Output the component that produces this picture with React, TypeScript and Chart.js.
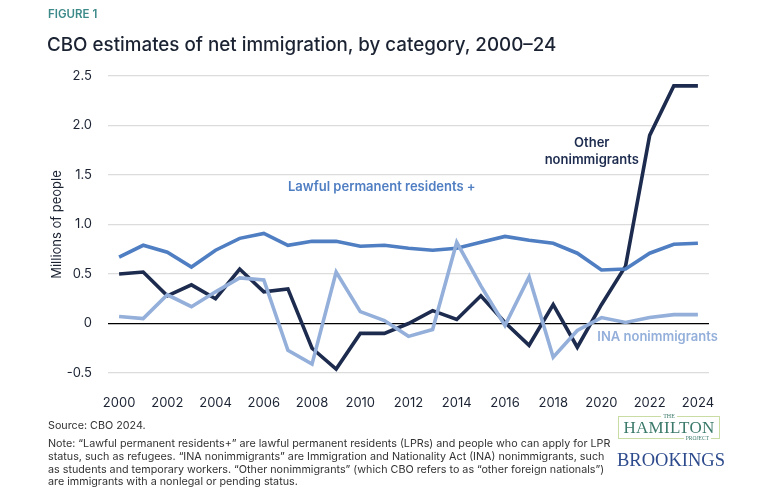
import React, { useEffect, useRef } from "react";
import { Chart, registerables } from "chart.js";

Chart.register(...registerables);

const years: number[] = [2000, 2001, 2002, 2003, 2004, 2005, 2006, 2007, 2008, 2009, 2010, 2011, 2012, 2013, 2014, 2015, 2016, 2017, 2018, 2019, 2020, 2021, 2022, 2023, 2024];
const lawfulPermanent: number[] = [0.67, 0.79, 0.72, 0.57, 0.74, 0.86, 0.91, 0.79, 0.83, 0.83, 0.78, 0.79, 0.76, 0.74, 0.76, 0.82, 0.88, 0.84, 0.81, 0.71, 0.54, 0.55, 0.71, 0.80, 0.81];
const inaNonimmigrants: number[] = [0.07, 0.05, 0.29, 0.17, 0.32, 0.46, 0.44, -0.27, -0.41, 0.52, 0.12, 0.03, -0.13, -0.06, 0.82, 0.38, -0.02, 0.47, -0.34, -0.07, 0.06, 0.01, 0.06, 0.09, 0.09];
const otherNonimmigrants: number[] = [0.50, 0.52, 0.28, 0.39, 0.25, 0.55, 0.32, 0.35, -0.25, -0.46, -0.10, -0.10, 0.00, 0.13, 0.04, 0.28, 0.01, -0.22, 0.19, -0.24, 0.19, 0.58, 1.90, 2.40, 2.40];
const xTickYears: number[] = [2000, 2002, 2004, 2006, 2008, 2010, 2012, 2014, 2016, 2018, 2020, 2022, 2024];
const yTickValues: number[] = [-0.5, 0, 0.5, 1.0, 1.5, 2.0, 2.5];
const yTickLabels: string[] = ["-0.5", "0", "0.5", "1.0", "1.5", "2.0", "2.5"];

const C_LAWFUL = "#4f7ec2";
const C_INA = "#93afda";
const C_OTHER = "#1c2b4e";
const FONT = "Inter, 'Noto Sans', sans-serif";

const seriesLabels = [
  { lines: ["Lawful permanent residents +"], x: 2007.0, y: 1.38, color: C_LAWFUL, align: "left" as CanvasTextAlign },
  { lines: ["Other", "nonimmigrants"], x: 2019.6, y: 1.82, color: C_OTHER, align: "center" as CanvasTextAlign },
  { lines: ["INA nonimmigrants"], x: 2019.83, y: -0.14, color: C_INA, align: "left" as CanvasTextAlign },
];

const labelPlugin = {
  id: "seriesLabels",
  afterDatasetsDraw(chart: any) {
    const { ctx, scales } = chart;
    ctx.save();
    ctx.font = `600 13px ${FONT}`;
    ctx.textBaseline = "middle";
    for (const l of seriesLabels) {
      const px = scales.x.getPixelForValue(l.x);
      const py = scales.y.getPixelForValue(l.y);
      ctx.fillStyle = l.color;
      ctx.textAlign = l.align;
      l.lines.forEach((t, i) => ctx.fillText(t, px, py + i * 17));
    }
    ctx.restore();
  },
};

function ChartCanvas() {
  const ref = useRef<HTMLCanvasElement | null>(null);
  useEffect(() => {
    if (!ref.current) return;
    const mk = (data: number[], color: string) => ({
      data: years.map((y, i) => ({ x: y, y: data[i] })),
      borderColor: color,
      borderWidth: 3.6,
      pointRadius: 0,
      tension: 0,
      fill: false,
      borderJoinStyle: "miter" as const,
    });
    const chart = new Chart(ref.current, {
      type: "line",
      data: {
        datasets: [
          mk(inaNonimmigrants, C_INA),
          mk(lawfulPermanent, C_LAWFUL),
          mk(otherNonimmigrants, C_OTHER),
        ],
      },
      options: {
        animation: false,
        responsive: false,
        devicePixelRatio: 1,
        layout: { padding: { top: 76, bottom: 85, left: 8, right: 50 } },
        plugins: { legend: { display: false }, tooltip: { enabled: false } },
        scales: {
          x: {
            type: "linear",
            min: 1999.54,
            max: 2024.46,
            afterBuildTicks: (s: any) => {
              s.ticks = xTickYears.map((v) => ({ value: v }));
            },
            afterFit: (s: any) => {
              s.height = 40;
              s.paddingLeft = 0;
              s.paddingRight = 0;
            },
            grid: { display: false },
            border: { display: false },
            ticks: {
              color: "#1b2333",
              font: { family: FONT, size: 13 },
              padding: 14,
              maxRotation: 0,
              autoSkip: false,
              callback: (v: any) => String(v),
            },
          },
          y: {
            type: "linear",
            min: -0.5,
            max: 2.5,
            afterBuildTicks: (s: any) => {
              s.ticks = yTickValues.map((v) => ({ value: v }));
            },
            afterFit: (s: any) => {
              s.width = 100;
              s.paddingTop = 0;
              s.paddingBottom = 0;
            },
            border: { display: false },
            grid: {
              color: (c: any) => (c.tick && c.tick.value === 0 ? "#000000" : "#dcdcdc"),
              lineWidth: (c: any) => (c.tick && c.tick.value === 0 ? 1.2 : 1.3),
              drawTicks: false,
            },
            ticks: {
              color: "#1b2333",
              font: { family: FONT, size: 13 },
              padding: 16,
              callback: (v: any) => {
                const i = yTickValues.indexOf(Number(v));
                return i >= 0 ? yTickLabels[i] : "";
              },
            },
            title: {
              display: true,
              text: "Millions of people",
              color: "#1b2333",
              font: { family: FONT, size: 13 },
              padding: { top: 41, bottom: 0 },
            },
          },
        },
      },
      plugins: [labelPlugin],
    });
    return () => chart.destroy();
  }, []);
  return <canvas ref={ref} width={759} height={498} style={{ position: "absolute", left: 0, top: 0, width: 759, height: 498 }} />;
}

const noteLines: string[] = [
  "Note: “Lawful permanent residents+” are lawful permanent residents (LPRs) and people who can apply for LPR",
  "status, such as refugees. “INA nonimmigrants” are Immigration and Nationality Act (INA) nonimmigrants, such",
  "as students and temporary workers. “Other nonimmigrants” (which CBO refers to as “other foreign nationals”)",
  "are immigrants with a nonlegal or pending status.",
];

export default function App() {
  useEffect(() => {
    document.body.style.margin = "0";
  }, []);
  const noteStyle = { position: "absolute" as const, left: 48, fontSize: 10.75, lineHeight: "13px", color: "#333", fontFamily: FONT, whiteSpace: "nowrap" as const };
  return (
    <div style={{ position: "relative", width: 759, height: 498, background: "#fff", overflow: "hidden", fontFamily: FONT }}>
      <ChartCanvas />
      <div style={{ position: "absolute", left: 48, top: 7, fontSize: 11.5, lineHeight: "14px", color: "#3d8a8a", fontWeight: 600 }}>FIGURE 1</div>
      <div style={{ position: "absolute", left: 47, top: 33, fontSize: 18.8, lineHeight: "24px", color: "#1b2333", fontWeight: 500, whiteSpace: "nowrap" }}>
        CBO estimates of net immigration, by category, 2000–24
      </div>
      <div style={{ ...noteStyle, top: 418.5 }}>Source: CBO 2024.</div>
      {noteLines.map((t, i) => (
        <div key={i} style={{ ...noteStyle, top: 437 + i * 12.8 }}>
          {t}
        </div>
      ))}
      <div style={{ position: "absolute", left: 618, top: 416, width: 100, height: 21, border: "1px solid #c9dca3" }}>
        <div style={{ position: "absolute", left: 0, right: 0, top: -5, textAlign: "center", fontSize: 6, lineHeight: "8px", fontFamily: "'Liberation Serif', serif", color: "#3b7a6a" }}>
          <span style={{ background: "#fff", padding: "0 2px" }}>THE</span>
        </div>
        <div style={{ position: "absolute", left: 0, right: 0, top: 2, textAlign: "center", fontSize: 17, lineHeight: "17px", fontFamily: "'Liberation Serif', serif", color: "#3b7a6a", letterSpacing: 0.3 }}>HAMILTON</div>
        <div style={{ position: "absolute", right: 8, bottom: -4, fontSize: 5.5, lineHeight: "7px", fontFamily: "'Liberation Serif', serif", color: "#3b7a6a" }}>
          <span style={{ background: "#fff", padding: "0 2px" }}>PROJECT</span>
        </div>
      </div>
      <div style={{ position: "absolute", left: 617, top: 449, width: 104, textAlign: "center", fontSize: 18.5, lineHeight: "22px", fontFamily: "'Liberation Serif', serif", color: "#2c4a8c" }}>BROOKINGS</div>
    </div>
  );
}
